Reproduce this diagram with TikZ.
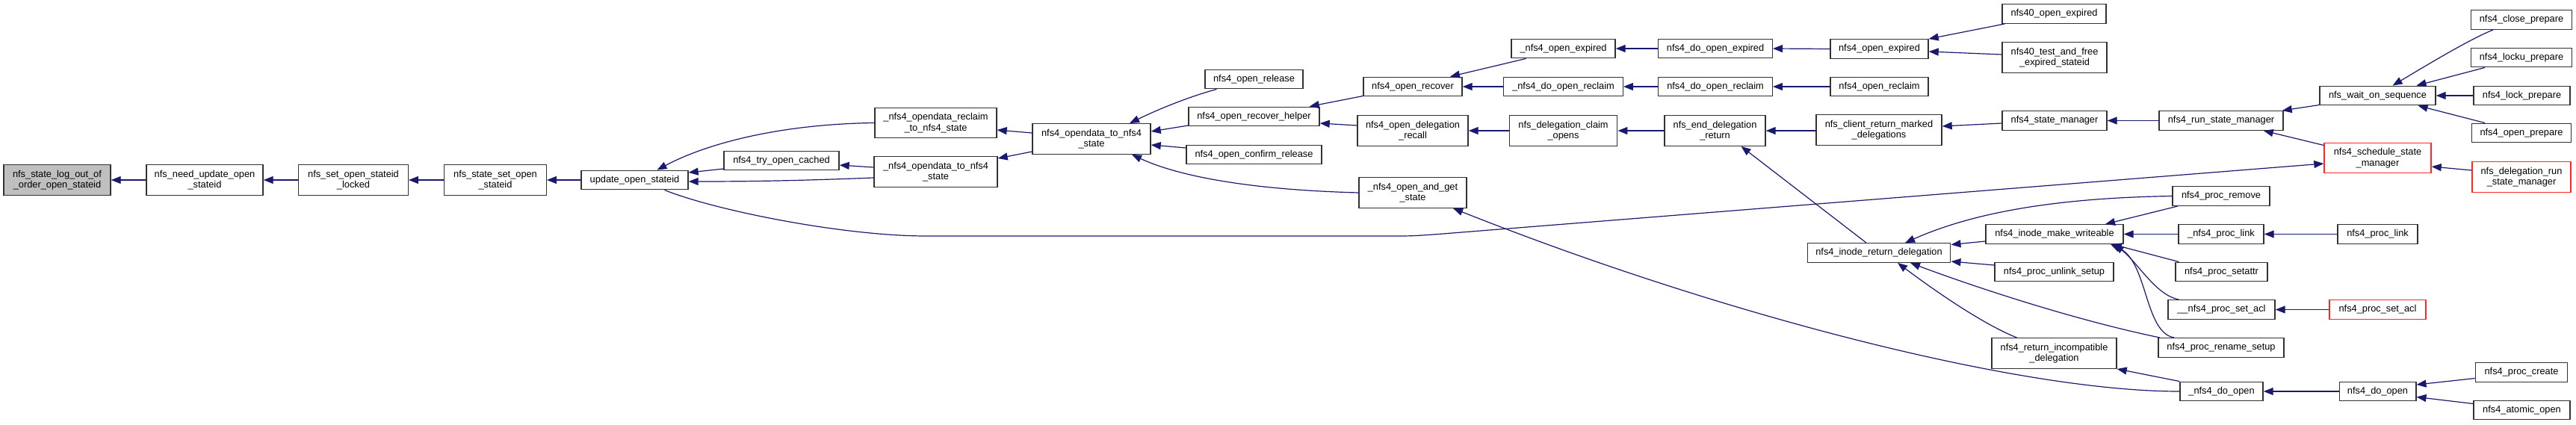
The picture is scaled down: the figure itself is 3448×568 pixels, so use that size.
\documentclass[tikz,border=0pt]{standalone}
\usepackage{fontspec}
\setmainfont{Liberation Sans}
\usetikzlibrary{arrows.meta}
\definecolor{edgec}{RGB}{25,25,112}
\definecolor{boxc}{RGB}{50,50,50}
\definecolor{redc}{RGB}{255,40,40}
\tikzset{
  box/.style={draw=boxc, line width=1.4pt, fill=white, inner sep=0pt, align=center,
    font=\fontsize{12.8}{14.5}\selectfont, minimum height=25.5pt},
  box2/.style={box, minimum height=40.5pt},
  redbox/.style={draw=redc},
  e/.style={draw=edgec, line width=1.2pt, -{Triangle[length=13pt,width=10pt]}},
}
\begin{document}
\begin{tikzpicture}[x=1pt,y=-1pt]
\useasboundingbox (0,0) rectangle (3448,568);
% nodes
\node[box2, fill=gray!50, minimum width=143pt] (n0) at (76.5,241) {nfs\_state\_log\_out\_of\\\_order\_open\_stateid};
\node[box2, minimum width=156pt] (n1) at (274,241) {nfs\_need\_update\_open\\\_stateid};
\node[box2, minimum width=146.5pt] (n2) at (473,241) {nfs\_set\_open\_stateid\\\_locked};
\node[box2, minimum width=136.5pt] (n3) at (663,241) {nfs\_state\_set\_open\\\_stateid};
\node[box, minimum width=143pt] (n4) at (849.5,241) {update\_open\_stateid};
\node[box, minimum width=154pt] (n5) at (1046,215) {nfs4\_try\_open\_cached};
\node[box2, minimum width=163pt] (n6) at (1252.5,164.5) {\_nfs4\_opendata\_reclaim\\\_to\_nfs4\_state};
\node[box2, minimum width=165pt] (n7) at (1252.5,230) {\_nfs4\_opendata\_to\_nfs4\\\_state};
\node[box2, minimum width=158pt] (n8) at (1461,186) {nfs4\_opendata\_to\_nfs4\\\_state};
\node[box, minimum width=131pt] (n9) at (1678.5,106) {nfs4\_open\_release};
\node[box, minimum width=175pt] (n10) at (1678.5,156) {nfs4\_open\_recover\_helper};
\node[box, minimum width=181pt] (n11) at (1678.5,207) {nfs4\_open\_confirm\_release};
\node[box, minimum width=132pt] (n12) at (1891,116) {nfs4\_open\_recover};
\node[box, minimum width=139pt] (n13) at (2092.5,65) {\_nfs4\_open\_expired};
\node[box, minimum width=159.5pt] (n14) at (2092.5,116) {\_nfs4\_do\_open\_reclaim};
\node[box2, minimum width=148pt] (n15) at (1891,175) {nfs4\_open\_delegation\\\_recall};
\node[box2, minimum width=144.5pt] (n16) at (2092.5,175) {nfs\_delegation\_claim\\\_opens};
\node[box2, minimum width=135pt] (n17) at (2295.5,175) {nfs\_end\_delegation\\\_return};
\node[box2, minimum width=144pt] (n18) at (1891,258) {\_nfs4\_open\_and\_get\\\_state};
\node[box, minimum width=152.5pt] (n19) at (2296,65) {nfs4\_do\_open\_expired};
\node[box, minimum width=152.5pt] (n20) at (2296,116) {nfs4\_do\_open\_reclaim};
\node[box, minimum width=131pt] (n21) at (2515.5,65.5) {nfs4\_open\_expired};
\node[box, minimum width=131pt] (n22) at (2515.5,116) {nfs4\_open\_reclaim};
\node[box2, minimum width=168pt] (n23) at (2515,174) {nfs\_client\_return\_marked\\\_delegations};
\node[box, minimum width=139pt] (n24) at (2749.5,18.5) {nfs40\_open\_expired};
\node[box2, minimum width=140pt] (n25) at (2750,77) {nfs40\_test\_and\_free\\\_expired\_stateid};
\node[box, minimum width=140pt] (n26) at (2750,161.5) {nfs4\_state\_manager};
\node[box, minimum width=191.5pt] (n27) at (2515,338.5) {nfs4\_inode\_return\_delegation};
\node[box, minimum width=184pt] (n28) at (2750,313.5) {nfs4\_inode\_make\_writeable};
\node[box, minimum width=159pt] (n29) at (2749.5,364) {nfs4\_proc\_unlink\_setup};
\node[box2, minimum width=167pt] (n30) at (2749.5,473) {nfs4\_return\_incompatible\\\_delegation};
\node[box, minimum width=166pt] (n31) at (2973,161.5) {nfs4\_run\_state\_manager};
\node[box, minimum width=155pt] (n32) at (3182.5,128) {nfs\_wait\_on\_sequence};
\node[box, minimum width=134.6pt] (n33) at (3375,26.5) {nfs4\_close\_prepare};
\node[box, minimum width=134.6pt] (n34) at (3375,77) {nfs4\_locku\_prepare};
\node[box, minimum width=129pt] (n35) at (3375.5,128) {nfs4\_lock\_prepare};
\node[box, minimum width=132.5pt] (n36) at (3375,178) {nfs4\_open\_prepare};
\node[box2, redbox, minimum width=143pt] (n37) at (3182.5,211.5) {nfs4\_schedule\_state\\\_manager};
\node[box2, redbox, minimum width=132pt] (n38) at (3375,237) {nfs\_delegation\_run\\\_state\_manager};
\node[box, minimum width=130pt] (n39) at (2973,262.5) {nfs4\_proc\_remove};
\node[box, minimum width=114pt] (n40) at (2973,313.5) {\_nfs4\_proc\_link};
\node[box, minimum width=107pt] (n41) at (3182.5,313.5) {nfs4\_proc\_link};
\node[box, minimum width=123pt] (n42) at (2973.5,364) {nfs4\_proc\_setattr};
\node[box, minimum width=143pt] (n43) at (2973.5,414.5) {\_\_nfs4\_proc\_set\_acl};
\node[box, redbox, minimum width=129pt] (n44) at (3182.5,414.5) {nfs4\_proc\_set\_acl};
\node[box, minimum width=168pt] (n45) at (2973,465.5) {nfs4\_proc\_rename\_setup};
\node[box, minimum width=111pt] (n46) at (2973.5,524) {\_nfs4\_do\_open};
\node[box, minimum width=102.6pt] (n47) at (3182.5,524) {nfs4\_do\_open};
\node[box, minimum width=123.3pt] (n48) at (3375,498.5) {nfs4\_proc\_create};
\node[box, minimum width=129pt] (n49) at (3375.5,549) {nfs4\_atomic\_open};
% edges
\draw[e] (n1.west) -- (n0.east);
\draw[e] (n2.west) -- (n1.east);
\draw[e] (n3.west) -- (n2.east);
\draw[e] (n4.west) -- (n3.east);
\draw[e] (n6.west) .. controls (1050,166) and (950,190) .. ([xshift=30pt]n4.north);
\draw[e] ([yshift=-11pt]n5.west) -- ([yshift=10pt]n4.east);
\draw[e] ([yshift=-8pt]n7.west) .. controls +(-100,4) and +(80,0) .. ([yshift=-2pt]n4.east);
\draw[e] ([yshift=6pt]n7.west) -- ([yshift=-6pt]n5.east);
\draw[e] ([yshift=8pt]n8.west) -- ([yshift=-9.5pt]n6.east);
\draw[e] ([yshift=-17pt]n8.west) -- ([yshift=18pt]n7.east);
\draw[e] ([xshift=-50pt]n9.south) .. controls +(-30,8) and +(45,-22) .. ([xshift=51pt]n8.north);
\draw[e] ([yshift=-12pt]n10.west) -- ([yshift=10pt]n8.east);
\draw[e] ([yshift=9pt]n11.west) -- ([yshift=-8pt]n8.east);
\draw[e] (n18.west) .. controls +(-150,-4) and +(60,28) .. ([xshift=54pt]n8.south);
\draw[e] ([yshift=-12.5pt]n12.west) -- ([xshift=-14pt]n10.north east);
\draw[e] ([yshift=7pt]n15.west) -- ([yshift=-9pt]n10.east);
\draw[e] ([xshift=-50pt]n13.south) -- ([xshift=50pt]n12.north);
\draw[e] (n14.west) -- (n12.east);
\draw[e] (n19.west) -- (n13.east);
\draw[e] (n20.west) -- (n14.east);
\draw[e] (n16.west) -- (n15.east);
\draw[e] (n17.west) -- (n16.east);
\draw[e] ([yshift=-1pt]n23.west) -- (n17.east);
\draw[e] ([xshift=-17pt]n27.north) -- ([xshift=35pt]n17.south);
\draw[e] (n21.west) -- (n19.east);
\draw[e] (n22.west) -- (n20.east);
\draw[e] ([xshift=4pt]n24.south west) -- (n21.north east);
\draw[e] ([yshift=4pt]n25.west) -- ([yshift=-3.5pt]n21.east);
\draw[e] ([yshift=-3.5pt]n26.west) -- ([yshift=5pt]n23.east);
\draw[e] (n31.west) -- (n26.east);
\draw[e] ([yshift=-12.5pt]n32.west) -- ([xshift=-2pt]n31.north east);
\draw[e] ([yshift=17pt]n37.west) -- ([xshift=-27pt]n31.south east);
\draw[e] ([xshift=-38pt]n33.south) .. controls +(-30,12) and +(50,-30) .. ([xshift=20pt]n32.north);
\draw[e] ([xshift=-49pt]n34.south) -- ([xshift=52pt]n32.north);
\draw[e] (n35.west) -- (n32.east);
\draw[e] ([xshift=-49pt]n36.north) -- ([xshift=54pt]n32.south);
\draw[e] ([yshift=9pt]n38.west) -- ([yshift=-11.5pt]n37.east);
\draw[e] ([xshift=40pt]n4.south) .. controls +(70,28) and +(-110,0) .. (1240,316) -- (1860,316) .. controls (1890,316) .. (1925,313.5) -- ([yshift=-7.5pt]n37.west);
\draw[e] (n39.west) .. controls (2750,265) and (2640,285) .. ([xshift=35pt]n27.north);
\draw[e] ([yshift=-9.5pt]n28.west) -- ([yshift=11pt]n27.east);
\draw[e] ([yshift=9pt]n29.west) -- ([yshift=-11.5pt]n27.east);
\draw[e] ([xshift=-82pt]n45.north) .. controls +(-120,-25) and +(80,30) .. ([xshift=42pt]n27.south);
\draw[e] ([xshift=-50pt]n30.north) .. controls +(-50,-20) and +(40,30) .. ([xshift=25pt]n27.south);
\draw[e] ([xshift=-58pt]n39.south) -- ([xshift=68pt]n28.north);
\draw[e] (n40.west) -- (n28.east);
\draw[e] ([xshift=-57pt]n42.north) -- ([xshift=77pt]n28.south);
\draw[e] ([xshift=-57pt]n43.north) .. controls (2885,395) and (2862,352) .. ([xshift=80pt]n28.south);
\draw[e] ([xshift=-63pt]n45.north) .. controls (2870,445) and (2875,350) .. ([xshift=75pt]n28.south);
\draw[e] (n46.north west) -- (n30.south east);
\draw[e] (n46.west) .. controls (2700,524) and (2300,420) .. ([xshift=54pt]n18.south);
\draw[e] (n41.west) -- (n40.east);
\draw[e] (n44.west) -- (n43.east);
\draw[e] (n47.west) -- (n46.east);
\draw[e] ([yshift=-8pt]n48.west) -- ([yshift=9pt]n47.east);
\draw[e] ([yshift=8.5pt]n49.west) -- ([yshift=-7.5pt]n47.east);
\end{tikzpicture}
\end{document}
